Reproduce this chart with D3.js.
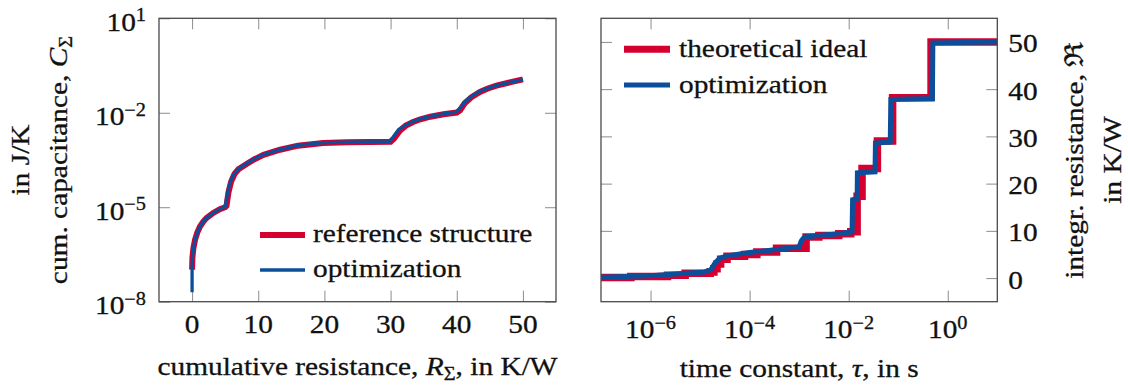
<!DOCTYPE html>
<html>
<head>
<meta charset="utf-8">
<script src="https://cdn.jsdelivr.net/npm/d3@7"></script>
<style>
  body { margin: 0; background: #fff; }
</style>
</head>
<body>
<svg id="chart" width="1128" height="390" font-family="'Liberation Serif', 'Times New Roman', serif"></svg>
<script>
// left panel: cumulative structure function
const cumRRef = [0, 0.05, 0.2, 0.45, 0.8, 1.2, 1.7, 2.2, 3.2, 4.2, 5.0, 5.2, 5.5, 5.9, 6.4, 7.0, 8.3, 9.5, 10.8, 13.3, 16, 19.8, 23.4, 30, 30.5, 31.4, 32.3, 33.4, 34.5, 36, 38, 40, 40.5, 41.2, 42.2, 43.5, 44.7, 46, 48, 50]
const cumCRef = [1.05e-7, 2.5e-7, 5.0e-7, 9.3e-7, 1.6e-6, 2.45e-6, 3.5e-6, 4.6e-6, 6.6e-6, 8.7e-6, 1.0e-5, 1.1e-5, 3.0e-5, 6.5e-5, 1.12e-4, 1.6e-4, 2.4e-4, 3.4e-4, 4.6e-4, 6.7e-4, 9.0e-4, 1.1e-3, 1.15e-3, 1.2e-3, 1.5e-3, 2.7e-3, 3.9e-3, 5.1e-3, 6.2e-3, 7.5e-3, 9.0e-3, 1.02e-2, 1.2e-2, 2.0e-2, 3.1e-2, 4.6e-2, 5.9e-2, 7.3e-2, 9.2e-2, 0.115]
const cumROpt = [0, 0, 0.05, 0.2, 0.45, 0.8, 1.2, 1.7, 2.2, 3.2, 4.2, 5.0, 5.3, 5.6, 6.0, 6.4, 7.0, 8.3, 9.5, 10.8, 13.3, 16, 19.8, 23.4, 29.8, 30.4, 31.2, 32.3, 33.4, 34.5, 36, 38, 39.8, 40.4, 41.2, 42.2, 43.5, 44.7, 46, 48, 50]
const cumCOpt = [2.0e-8, 1.05e-7, 2.5e-7, 5.0e-7, 9.3e-7, 1.6e-6, 2.45e-6, 3.5e-6, 4.6e-6, 6.6e-6, 8.7e-6, 1.05e-5, 2.4e-5, 4.8e-5, 8.3e-5, 1.17e-4, 1.66e-4, 2.5e-4, 3.5e-4, 4.7e-4, 6.8e-4, 9.3e-4, 1.12e-3, 1.16e-3, 1.22e-3, 1.7e-3, 2.9e-3, 4.1e-3, 5.3e-3, 6.4e-3, 7.7e-3, 9.2e-3, 1.04e-2, 1.3e-2, 2.2e-2, 3.3e-2, 4.8e-2, 6.0e-2, 7.4e-2, 9.3e-2, 0.112]
const cumXTicks = [0, 10, 20, 30, 40, 50]
const cumYTicks = [1e1, 1e-2, 1e-5, 1e-8]
const cumLegend = ["reference structure", "optimization"]

// right panel: integral structure function
// reference is a staircase: value intRRef[i] starts at tauRef[i]
const tauRef = [1e-7, 4e-7, 2.2e-6, 5e-6, 1.6e-5, 1.9e-5, 2.2e-5, 2.6e-5, 3.5e-5, 7.9e-5, 1.4e-4, 3.5e-4, 1.38e-3, 2.5e-3, 6.3e-3, 1.1e-2, 1.48e-2, 1.86e-2, 3.8e-2, 7.7e-2, 0.46, 10]
const intRRef = [0.1, 0.35, 0.6, 1.0, 1.3, 2.0, 3.0, 4.0, 4.6, 5.0, 5.5, 6.3, 8.7, 9.0, 9.4, 9.8, 17.3, 23.2, 29.0, 38.2, 50.0, 50.0]
const tauOpt = [1e-7, 1e-6, 5e-6, 1.25e-5, 1.66e-5, 2.0e-5, 2.5e-5, 3.5e-5, 1e-4, 3.2e-4, 1.0e-3, 1.1e-3, 1.2e-3, 1.32e-3, 2.5e-3, 6.3e-3, 1.17e-2, 1.2e-2, 1.48e-2, 1.5e-2, 3.4e-2, 3.47e-2, 6.9e-2, 7.1e-2, 0.49, 0.5, 10]
const intROpt = [0.2, 0.5, 1.0, 1.3, 1.8, 3.2, 4.2, 4.7, 5.4, 6.0, 6.6, 7.8, 8.4, 8.7, 9.0, 9.4, 9.8, 16.6, 16.8, 22.3, 22.5, 28.6, 28.8, 37.8, 38.0, 49.8, 50]
const tauTicks = [1e-6, 1e-4, 1e-2, 1e0]
const intTicks = [0, 10, 20, 30, 40, 50]
const intLegend = ["theoretical ideal", "optimization"]

const RED = "#d5002f"
const BLUE = "#0b4f9b"
const FONT = 26
const SUP = 18
const STRETCH = 1.13 // the original typeface runs wider than Liberation Serif

const svg = d3.select("#chart")

// panel frames
const L = { x0: 159, x1: 556, y0: 18.3, y1: 301.7 }
const Rp = { x0: 601, x1: 997.3, y0: 18.3, y1: 301.7 }

const xCum = d3.scaleLinear().domain([-5, 55]).range([L.x0, L.x1])
const yCum = d3.scaleLog().domain([1e-8, 1e1]).range([L.y1, L.y0])
const xTau = d3.scaleLog().domain([1e-7, 1e1]).range([Rp.x0, Rp.x1])
const yInt = d3.scaleLinear().domain([-5, 55]).range([Rp.y1, Rp.y0])

function label(x, y, rot) {
  // slight stroke gives the heavier look of the TeX rendering
  return svg.append("text")
    .attr("transform", `translate(${x},${y})${rot ? " rotate(-90)" : ""} scale(${STRETCH},1)`)
    .attr("font-size", FONT).attr("fill", "#111")
    .attr("stroke", "#111").attr("stroke-width", 0.3)
}

function supLabel(text, v) {
  let e = Math.round(Math.log10(v))
  text.append("tspan").text("10")
  text.append("tspan").attr("font-size", SUP).attr("dy", -9.5)
    .text(e < 0 ? "\u2212" + (-e) : String(e))
}

function frameAndTicks(p, x, y, xt, yt, id) {
  svg.append("defs").append("clipPath").attr("id", id)
    .append("rect").attr("x", p.x0).attr("y", p.y0)
    .attr("width", p.x1 - p.x0).attr("height", p.y1 - p.y0)

  let axes = [
    [d3.axisBottom(x).tickValues(xt), `translate(0,${p.y1})`],
    [d3.axisTop(x).tickValues(xt), `translate(0,${p.y0})`],
    [d3.axisLeft(y).tickValues(yt), `translate(${p.x0},0)`],
    [d3.axisRight(y).tickValues(yt), `translate(${p.x1},0)`]
  ]
  axes.forEach(([ax, tr]) => {
    let g = svg.append("g").attr("transform", tr)
      .call(ax.tickSize(-11).tickFormat(""))
    g.select(".domain").remove()
    g.selectAll(".tick line").attr("stroke", "#8c8c8c").attr("stroke-width", 1)
  })
}

function drawFrame(p) {
  svg.append("rect").attr("x", p.x0).attr("y", p.y0)
    .attr("width", p.x1 - p.x0).attr("height", p.y1 - p.y0)
    .attr("fill", "none").attr("stroke", "#4a4a4a").attr("stroke-width", 1.3)
}

// ---------- left panel ----------
frameAndTicks(L, xCum, yCum, cumXTicks, cumYTicks, "clipL")

const lineCum = d3.line().x(d => xCum(d[0])).y(d => yCum(d[1]))
const gL = svg.append("g").attr("clip-path", "url(#clipL)")
gL.append("path").datum(d3.zip(cumRRef, cumCRef)).attr("d", lineCum)
  .attr("fill", "none").attr("stroke", RED).attr("stroke-width", 6)
gL.append("path").datum(d3.zip(cumROpt, cumCOpt)).attr("d", lineCum)
  .attr("fill", "none").attr("stroke", BLUE).attr("stroke-width", 3.3)

drawFrame(L)

cumXTicks.forEach(d => {
  label(xCum(d), L.y1 + 31).attr("text-anchor", "middle").text(d)
})
cumYTicks.forEach(d => {
  supLabel(label(L.x0 - 13, yCum(d) + 12.5).attr("text-anchor", "end"), d)
})

// legend left
const legL = [[RED, 6], [BLUE, 3.3]]
cumLegend.forEach((name, i) => {
  let ly = 235 + i * 35
  svg.append("line").attr("x1", 260).attr("x2", 305).attr("y1", ly).attr("y2", ly)
    .attr("stroke", legL[i][0]).attr("stroke-width", legL[i][1])
  label(313, ly + 7).text(name)
})

// axis titles left
let tx = label((L.x0 + L.x1) / 2, 375).attr("text-anchor", "middle")
tx.append("tspan").text("cumulative resistance, ")
tx.append("tspan").attr("font-style", "italic").text("R")
tx.append("tspan").attr("font-size", SUP).attr("dy", 5).text("\u03a3")
tx.append("tspan").attr("dy", -5).text(", in K/W")

label(29, (L.y0 + L.y1) / 2, true).attr("text-anchor", "middle").text("in J/K")
let ty = label(67, (L.y0 + L.y1) / 2, true).attr("text-anchor", "middle")
ty.append("tspan").text("cum. capacitance, ")
ty.append("tspan").attr("font-style", "italic").text("C")
ty.append("tspan").attr("font-size", SUP).attr("dy", 5).text("\u03a3")

// ---------- right panel ----------
frameAndTicks(Rp, xTau, yInt, tauTicks, intTicks, "clipR")

const gR = svg.append("g").attr("clip-path", "url(#clipR)")
gR.append("path").datum(d3.zip(tauRef, intRRef))
  .attr("d", d3.line().x(d => xTau(d[0])).y(d => yInt(d[1])).curve(d3.curveStepAfter))
  .attr("fill", "none").attr("stroke", RED).attr("stroke-width", 7.5)
gR.append("path").datum(d3.zip(tauOpt, intROpt))
  .attr("d", d3.line().x(d => xTau(d[0])).y(d => yInt(d[1])))
  .attr("fill", "none").attr("stroke", BLUE).attr("stroke-width", 5)

drawFrame(Rp)

tauTicks.forEach(d => {
  supLabel(label(xTau(d), Rp.y1 + 36.5).attr("text-anchor", "middle"), d)
})
intTicks.forEach(d => {
  label(Rp.x1 + 11, yInt(d) + 10.5).attr("text-anchor", "start").text(d)
})

// legend right
const legR = [[RED, 7], [BLUE, 5]]
intLegend.forEach((name, i) => {
  let ly = 49.3 + i * 35.7
  svg.append("line").attr("x1", 624).attr("x2", 670).attr("y1", ly).attr("y2", ly)
    .attr("stroke", legR[i][0]).attr("stroke-width", legR[i][1])
  label(679, ly + 7.5).text(name)
})

let tx2 = label((Rp.x0 + Rp.x1) / 2, 377).attr("text-anchor", "middle")
tx2.append("tspan").text("time constant, ")
tx2.append("tspan").attr("font-style", "italic").text("\u03c4")
tx2.append("tspan").text(", in s")

label(1083, (Rp.y0 + Rp.y1) / 2, true).attr("text-anchor", "middle").text("integr. resistance, \u211c")
label(1121, (Rp.y0 + Rp.y1) / 2, true).attr("text-anchor", "middle").text("in K/W")
</script>
</body>
</html>
